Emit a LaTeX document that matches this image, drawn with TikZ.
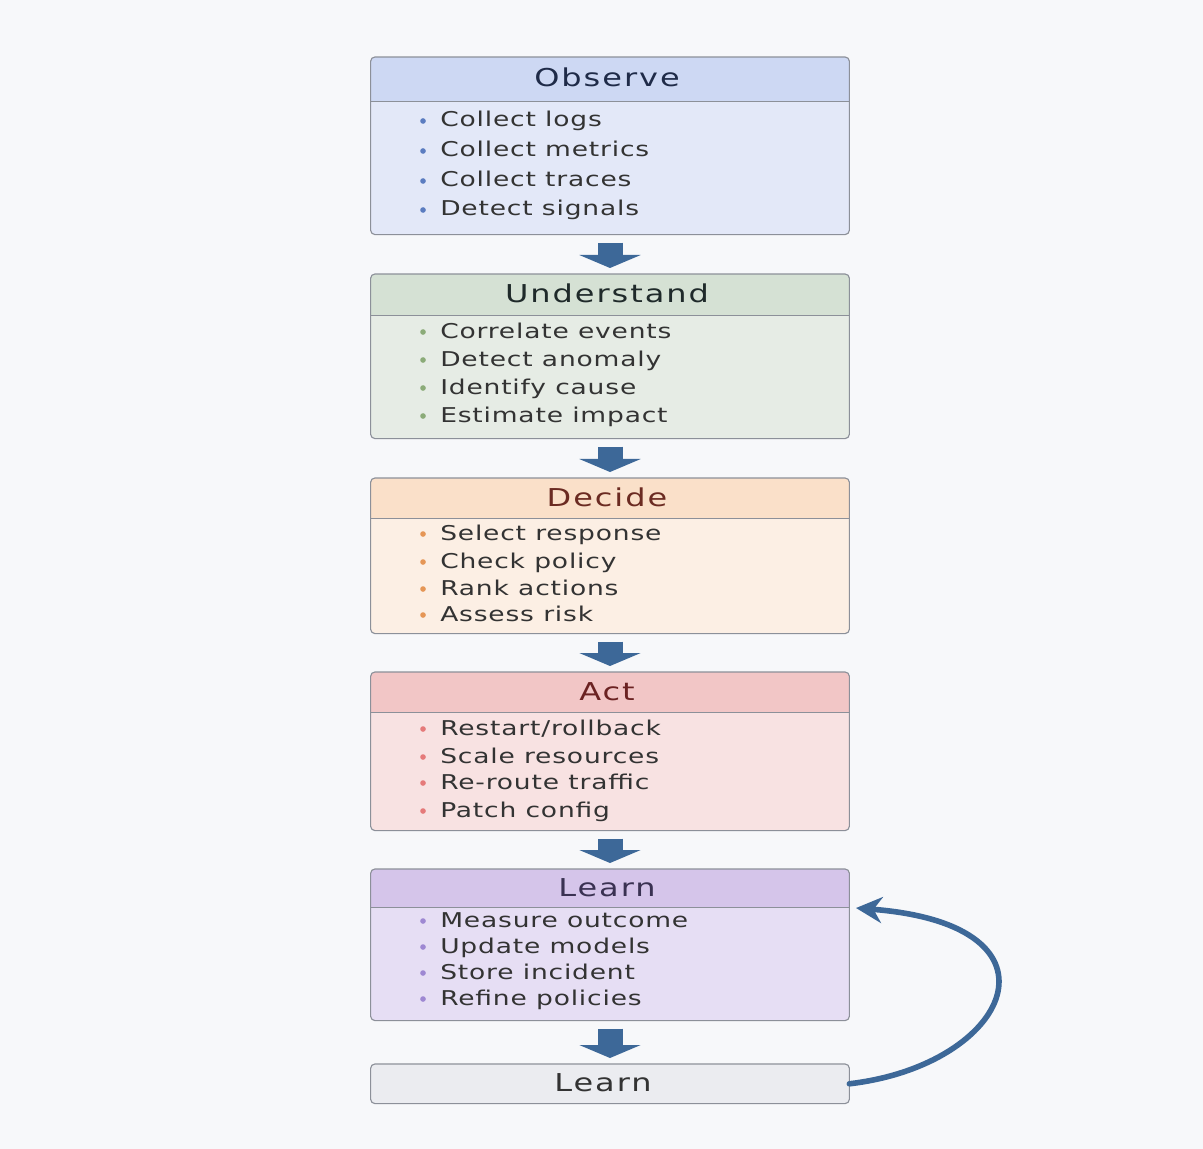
\documentclass[tikz,border=0pt]{standalone}
\usepackage{fontspec}
\usetikzlibrary{arrows.meta}
\newfontfamily\headfont{DejaVu Sans}[FakeStretch=1.3,LetterSpace=8]
\newfontfamily\itemfont{DejaVu Sans}[FakeStretch=1.3,LetterSpace=4]

\definecolor{bg}{HTML}{F7F8FA}
\definecolor{edge}{HTML}{8C9099}
\definecolor{flowblue}{HTML}{3D6898}
\definecolor{itemtext}{HTML}{333333}
\definecolor{obshead}{HTML}{CDD8F3}\definecolor{obsbody}{HTML}{E3E8F8}
\definecolor{obsdot}{HTML}{5B7CC0}\definecolor{obstext}{HTML}{1F2B48}
\definecolor{undhead}{HTML}{D5E1D4}\definecolor{undbody}{HTML}{E6ECE5}
\definecolor{unddot}{HTML}{8BAB78}\definecolor{undtext}{HTML}{1F2A2A}
\definecolor{dechead}{HTML}{FAE0C9}\definecolor{decbody}{HTML}{FCEFE4}
\definecolor{decdot}{HTML}{E59656}\definecolor{dectext}{HTML}{6B2B22}
\definecolor{acthead}{HTML}{F2C6C6}\definecolor{actbody}{HTML}{F8E2E2}
\definecolor{actdot}{HTML}{E57A7A}\definecolor{acttext}{HTML}{6B2222}
\definecolor{lrnhead}{HTML}{D5C5EA}\definecolor{lrnbody}{HTML}{E6DEF4}
\definecolor{lrndot}{HTML}{9E88D2}\definecolor{lrntext}{HTML}{3A3252}
\definecolor{finbody}{HTML}{EBECF0}\definecolor{fintext}{HTML}{333333}

\tikzset{
  stage/.style={rounded corners=3pt, minimum width=11.95cm, inner sep=0pt},
  rim/.style={draw=edge, line width=0.8pt, rounded corners=3pt},
  title/.style={anchor=base, inner sep=0pt, font=\headfont\fontsize{17.5}{20}\selectfont},
  item/.style={anchor=base west, inner sep=0pt,
    text=itemtext, font=\itemfont\fontsize{14.5}{16}\selectfont},
  flow/.style={draw=flowblue, line width=0.625cm, line cap=butt,
    -{Triangle[width=1.525cm,length=0.325cm]}, shorten <=0.2cm, shorten >=0.15cm},
  back/.style={draw=flowblue, line width=0.14cm, -{Stealth[length=0.65cm,width=0.65cm]}},
}

% #1 name, #2 top, #3 header bottom, #4 bottom, #5 colour prefix, #6 title, #7 y/item list
\newcommand{\stagebox}[7]{%
  \node[stage, fill=#5body, anchor=north, minimum height={(#4-#2)*0.025cm}] (#1) at (610,#2) {};
  \begin{scope}
    \clip[rounded corners=3pt] (#1.north west) rectangle (#1.south east);
    \fill[#5head] (371,#2) rectangle (849,#3);
  \end{scope}
  \draw[edge, line width=0.6pt] (371,#3) -- (849,#3);
  \draw[rim] (#1.north west) rectangle (#1.south east);
  \node[title, text=#5text] (#1-t) at (607,{(#2+#3)/2+8}) {#6};
  \foreach \y/\txt [count=\k] in {#7} {
    \fill[#5dot] (423,\y) circle (2pt);
    \node[item] (#1-\k) at (440,\y+6) {\txt};
  }
}

\begin{document}
\begin{tikzpicture}[x=0.025cm,y=-0.025cm,line join=round,line cap=round]
  \useasboundingbox (0,0) rectangle (1203,1149);
  \fill[bg] (0,0) rectangle (1203,1149);

  \stagebox{obs}{57}{101}{234}{obs}{Observe}%
    {121/Collect logs, 151/Collect metrics, 181/Collect traces, 210/Detect signals}
  \stagebox{und}{274}{315}{438}{und}{Understand}%
    {332/Correlate events, 360/Detect anomaly, 388/Identify cause, 416/Estimate impact}
  \stagebox{dec}{478}{518}{633}{dec}{Decide}%
    {534/Select response, 562/Check policy, 589/Rank actions, 615/Assess risk}
  \stagebox{act}{672}{712}{830}{act}{Act}%
    {729/{Restart/rollback}, 757/Scale resources, 783/Re-route traffic, 811/Patch config}
  \stagebox{lrn}{869}{907}{1020}{lrn}{Learn}%
    {921/Measure outcome, 947/Update models, 973/Store incident, 999/Refine policies}

  % closing box
  \node[stage, fill=finbody, anchor=north, minimum height=0.975cm] (fin) at (610,1064) {};
  \draw[rim] (fin.north west) rectangle (fin.south east);
  \node[title, text=fintext] (fin-t) at (603,1091) {Learn};

  % flow between stages
  \draw[flow] (obs.south) -- (und.north);
  \draw[flow] (und.south) -- (dec.north);
  \draw[flow] (dec.south) -- (act.north);
  \draw[flow] (act.south) -- (lrn.north);
  \draw[flow] (lrn.south) -- (fin.north);

  % feedback loop
  \coordinate (lrn-in) at (856,908);
  \draw[back] (fin.east) .. controls (1010,1065) and (1075,925) .. (lrn-in);
\end{tikzpicture}
\end{document}
